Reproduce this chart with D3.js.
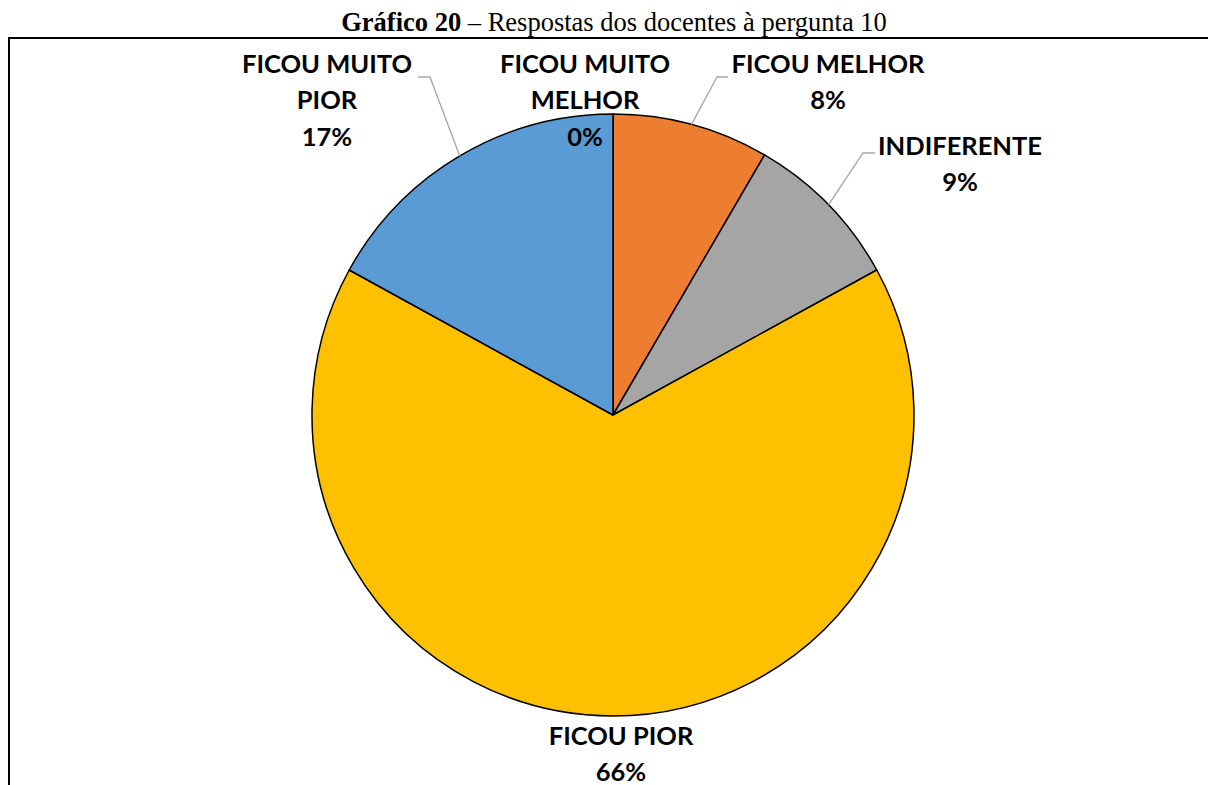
<!DOCTYPE html>
<html>
<head>
<meta charset="utf-8">
<script src="https://cdn.jsdelivr.net/npm/d3@7"></script>
<style>
	body { margin: 0; background: #fff; }
	svg { display: block; }
</style>
</head>
<body>
<svg width="1208" height="785"></svg>
<script>

const categories = [ 'FICOU MUITO MELHOR', 'FICOU MELHOR', 'INDIFERENTE', 'FICOU PIOR', 'FICOU MUITO PIOR' ],
	shares = [ 0, 8.4, 8.6, 66.0, 17.0 ],
	colors = [ '#5b9bd5', '#ed7d31', '#a5a5a5', '#ffc000', '#5b9bd5' ]

// onde fica cada rótulo, relativo ao centro da pizza (Excel os moveu à mão)
const labelSpots = [
	{ dx: -28, dy: -351 },
	{ dx: 215, dy: -351, elbow: [ 104, -338 ], end: [ 115, -338 ] },
	{ dx: 347, dy: -269, elbow: [ 250, -262 ], end: [ 262, -262 ] },
	{ dx: 8, dy: 321 },
	{ dx: -286, dy: -351, elbow: [ -183, -338 ], end: [ -195, -338 ] }
]

const svg = d3.select( 'svg' ),
	width = +svg.attr( 'width' ),
	cx = 613,
	cy = 415,
	radius = 301,
	lineHeight = 36.5,
	pct = d3.format( '.0%' )

// moldura do gráfico
svg.append( 'rect' )
	.attr( 'x', 9 )
	.attr( 'y', 38 )
	.attr( 'width', width + 20 )
	.attr( 'height', 900 )
	.attr( 'fill', 'none' )
	.attr( 'stroke', '#000' )
	.attr( 'stroke-width', 2 )

const title = svg.append( 'text' )
	.attr( 'x', 614 )
	.attr( 'y', 31 )
	.attr( 'text-anchor', 'middle' )
	.attr( 'font-family', '"Liberation Serif", "Times New Roman", serif' )
	.attr( 'font-size', 26.5 )

title.append( 'tspan' ).attr( 'font-weight', 'bold' ).text( 'Gráfico 20' )
title.append( 'tspan' ).text( ' – Respostas dos docentes à pergunta 10' )

const data = categories.map( ( name, i ) => ( { name, value: shares[ i ], color: colors[ i ], spot: labelSpots[ i ] } ) )

const pie = d3.pie()
	.sort( null )
	.value( d => d.value )

const arc = d3.arc()
	.innerRadius( 0 )
	.outerRadius( radius )

const arcs = pie( data ),
	total = d3.sum( shares ),
	g = svg.append( 'g' ).attr( 'transform', `translate(${cx},${cy})` )

g.selectAll( 'path.slice' )
	.data( arcs )
	.enter()
	.append( 'path' )
	.attr( 'class', 'slice' )
	.attr( 'd', arc )
	.attr( 'fill', d => d.data.color )
	.attr( 'stroke', '#000' )
	.attr( 'stroke-width', 1.5 )
	.attr( 'stroke-linejoin', 'round' )

// linhas de chamada, saindo do meio de cada fatia na borda
g.selectAll( 'path.leader' )
	.data( arcs.filter( d => d.data.spot.elbow ) )
	.enter()
	.append( 'path' )
	.attr( 'class', 'leader' )
	.attr( 'fill', 'none' )
	.attr( 'stroke', '#a6a6a6' )
	.attr( 'stroke-width', 1.3 )
	.attr( 'd', d => {
		const a = ( d.startAngle + d.endAngle ) / 2,
			p = [ Math.sin( a ) * radius, -Math.cos( a ) * radius ]
		return d3.line()( [ p, d.data.spot.elbow, d.data.spot.end ] )
	})

const labels = g.selectAll( 'text.label' )
	.data( arcs )
	.enter()
	.append( 'text' )
	.attr( 'class', 'label' )
	.attr( 'text-anchor', 'middle' )
	.attr( 'font-family', 'Lato, "Open Sans", sans-serif' )
	.attr( 'font-weight', 'bold' )
	.attr( 'font-size', 25.5 )
	.attr( 'fill', '#000' )

labels.each( function( d ) {

	const el = d3.select( this ),
		words = d.data.name.split( ' ' ),
		lines = []
	let line = []

	// quebra as palavras como o Excel faz
	words.forEach( w => {
		const test = el.append( 'tspan' ).text( [ ...line, w ].join( ' ' ) ),
			len = test.node().getComputedTextLength()
		test.remove()
		if ( len > 215 && line.length ) {
			lines.push( line.join( ' ' ) )
			line = [ w ]
		} else line.push( w )
	})
	lines.push( line.join( ' ' ) )
	lines.push( pct( d.data.value / total ) )

	lines.forEach( ( t, i ) => {
		el.append( 'tspan' )
			.attr( 'x', d.data.spot.dx )
			.attr( 'y', d.data.spot.dy + i * lineHeight )
			.attr( 'dy', '0.35em' )
			.text( t )
	})

})

</script>
</body>
</html>
